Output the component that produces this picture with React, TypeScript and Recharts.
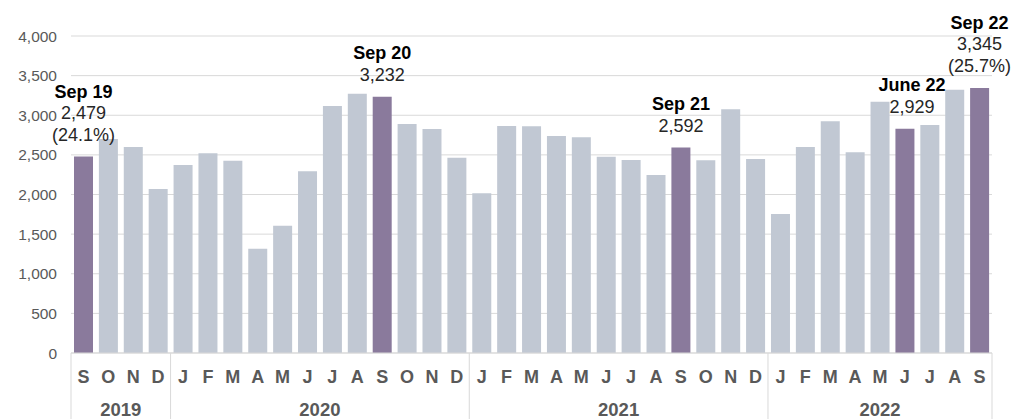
import React from "react";
import { BarChart, Bar, XAxis, YAxis, CartesianGrid, Cell, LabelList } from "recharts";

const MONTHS = [
  "S", "O", "N", "D",
  "J", "F", "M", "A", "M", "J", "J", "A", "S", "O", "N", "D",
  "J", "F", "M", "A", "M", "J", "J", "A", "S", "O", "N", "D",
  "J", "F", "M", "A", "M", "J", "J", "A", "S",
];

const VALUES = [
  2479, 2700, 2599, 2069,
  2372, 2520, 2427, 1316, 1607, 2292, 3117, 3272, 3232, 2890, 2826, 2465,
  2015, 2864, 2860, 2738, 2721, 2477, 2435, 2246, 2592, 2431, 3075, 2448,
  1754, 2599, 2923, 2532, 3171, 2830, 2877, 3322, 3345,
];

const YEAR_LABELS = ["2019", "2020", "2021", "2022"];
const YEAR_COUNTS = [4, 12, 12, 9];

const HIGHLIGHT = [0, 12, 24, 33, 36];

const NOTE_INDEX = [0, 12, 24, 33, 36];
const NOTE_TITLES = ["Sep 19", "Sep 20", "Sep 21", "June 22", "Sep 22"];
const NOTE_VALUES = ["2,479", "3,232", "2,592", "2,929", "3,345"];
const NOTE_SHARES = ["(24.1%)", "", "", "", "(25.7%)"];
const NOTE_DX = [0, 0, 0, 7, 0];

const Y_TICKS = [0, 500, 1000, 1500, 2000, 2500, 3000, 3500, 4000];

const W = 1031;
const H = 419;
const MARGIN = { top: 36, right: 39, bottom: 0, left: 0 };
const Y_AXIS_W = 71;
const X_AXIS_H = 66;
const AXIS_Y = H - X_AXIS_H - MARGIN.bottom;
const BAND = (W - MARGIN.left - MARGIN.right - Y_AXIS_W) / MONTHS.length;

const FONT = "'Liberation Sans', Arial, sans-serif";
const GREY = "#c1c8d3";
const PURPLE = "#8a7a9c";
const LINE = "#d9d9d9";
const TEXT = "#595959";

const data = MONTHS.map((m, i) => ({ m, v: VALUES[i], idx: i }));

// first bar index of each year
const GROUP_START: number[] = [];
YEAR_COUNTS.reduce((acc, n) => {
  GROUP_START.push(acc);
  return acc + n;
}, 0);

function MonthTick(props: any) {
  const { x, index, payload } = props;
  const g = GROUP_START.indexOf(index);
  const last = index === MONTHS.length - 1;
  return (
    <g>
      <text
        x={x}
        y={AXIS_Y + 24}
        textAnchor="middle"
        dominantBaseline="central"
        fill={TEXT}
        fontFamily={FONT}
        fontWeight="bold"
        fontSize={18}
      >
        {payload.value}
      </text>
      {g >= 0 && (
        <>
          <line x1={x - BAND / 2} x2={x - BAND / 2} y1={AXIS_Y} y2={H} stroke={LINE} />
          <text
            x={x + (BAND * (YEAR_COUNTS[g] - 1)) / 2}
            y={AXIS_Y + 56}
            textAnchor="middle"
            dominantBaseline="central"
            fill={TEXT}
            fontFamily={FONT}
            fontWeight="bold"
            fontSize={18.5}
          >
            {YEAR_LABELS[g]}
          </text>
        </>
      )}
      {last && <line x1={x + BAND / 2} x2={x + BAND / 2} y1={AXIS_Y} y2={H} stroke={LINE} />}
    </g>
  );
}

function NoteLabel(props: any) {
  const { x, y, width, value } = props;
  const n = NOTE_INDEX.indexOf(value);
  if (n < 0) return null;
  const lines = [NOTE_TITLES[n], NOTE_VALUES[n], NOTE_SHARES[n]].filter((s) => s);
  const cx = x + width / 2 + NOTE_DX[n];
  const step = 21.5;
  const bottom = y - 22;
  return (
    <g>
      {lines.map((s, i) => (
        <text
          key={i}
          x={cx}
          y={bottom - (lines.length - 1 - i) * step}
          textAnchor="middle"
          dominantBaseline="central"
          fontFamily={FONT}
          fontSize={18}
          fontWeight={i === 0 ? "bold" : "normal"}
          fill={i === 0 ? "#000000" : "#262626"}
        >
          {s}
        </text>
      ))}
    </g>
  );
}

export default function App() {
  return (
    <div style={{ position: "absolute", left: 0, top: 0, width: W, height: H, background: "#fff" }}>
      <BarChart width={W} height={H} data={data} margin={MARGIN}>
        <CartesianGrid vertical={false} stroke={LINE} />
        <XAxis
          dataKey="m"
          interval={0}
          tickLine={false}
          axisLine={{ stroke: LINE }}
          height={X_AXIS_H}
          tick={<MonthTick />}
        />
        <YAxis
          domain={[0, 4000]}
          ticks={Y_TICKS}
          width={Y_AXIS_W}
          axisLine={false}
          tickLine={false}
          tickSize={0}
          tickMargin={14}
          tickFormatter={(v: number) => v.toLocaleString("en-US")}
          tick={{ fill: TEXT, fontSize: 15.5, fontFamily: FONT }}
        />
        <Bar dataKey="v" barSize={19} isAnimationActive={false}>
          {data.map((d) => (
            <Cell key={d.idx} fill={HIGHLIGHT.includes(d.idx) ? PURPLE : GREY} />
          ))}
          <LabelList dataKey="idx" content={<NoteLabel />} />
        </Bar>
      </BarChart>
    </div>
  );
}
